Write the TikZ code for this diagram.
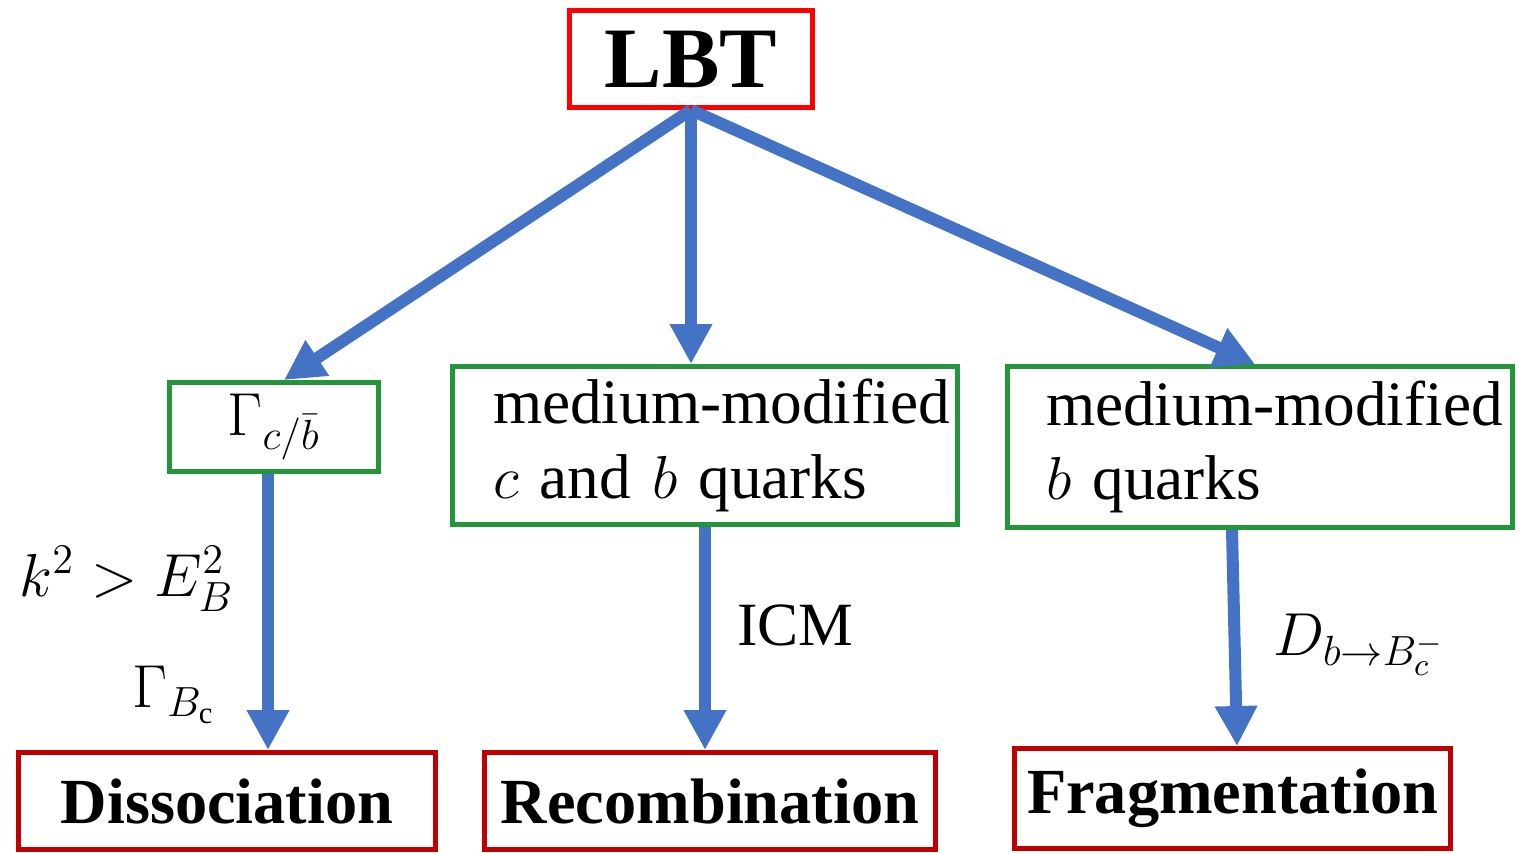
\documentclass[tikz,border=0pt]{standalone}
\usepackage{fontspec}
\setmainfont{Liberation Serif}
\usetikzlibrary{shapes, arrows.meta, positioning}

\definecolor{lbtred}{RGB}{255,0,0}
\definecolor{resultred}{RGB}{192,0,0}
\definecolor{stagegreen}{RGB}{34,150,56}
\definecolor{flowblue}{RGB}{68,114,196}

\begin{document}
\begin{tikzpicture}[node distance=2cm,
                    every node/.style={rectangle, inner sep=0pt},
                    box/.style={draw, line width=0.5mm, fill=white},
                    mainbox/.style={box, draw=lbtred, minimum width=2.43cm, minimum height=0.97cm,
                                    font=\fontsize{24.5}{28}\selectfont\bfseries},
                    stagebox/.style={box, draw=stagegreen, font=\fontsize{18}{21.3}\selectfont},
                    quarkbox/.style={stagebox, text width=5.05cm, align=left,
                                     execute at begin node={\leftskip=#1}},
                    resultbox/.style={box, draw=resultred, minimum height=0.97cm,
                                      font=\fontsize{18.3}{22}\selectfont\bfseries},
                    flow/.style={draw=flowblue, line width=1.2mm, -{Triangle[width=4mm,length=4mm]}},
                    flowlabel/.style={font=\fontsize{17.5}{21}\selectfont}]

\useasboundingbox (0,0) rectangle (15.34,-8.53);

% Nodes
\node (lbt) [mainbox] at (6.91,-0.59) {LBT};
\node (rate) [stagebox, minimum width=2.09cm, minimum height=0.89cm,
              below=2.70cm of lbt, xshift=-4.17cm] {$\Gamma_{c/\bar{b}}$};
\node (cquarks) [quarkbox=0.405cm, minimum height=1.58cm,
                 below=2.54cm of lbt, xshift=0.14cm] {medium-modified\\ $c$ and $b$ quarks};
\node (bquarks) [quarkbox=0.385cm, minimum height=1.61cm,
                 below=2.54cm of lbt, xshift=5.69cm] {medium-modified\\ $b$ quarks};
\node (diss) [resultbox, minimum width=4.17cm, below=2.76cm of rate, xshift=-0.47cm] {Dissociation};
\node (recomb) [resultbox, minimum width=4.51cm, below=2.23cm of cquarks, xshift=0.05cm] {Recombination};
\node (frag) [resultbox, minimum width=4.36cm, minimum height=1.0cm,
              below=2.16cm of bquarks, xshift=-0.275cm] {Fragmentation};

% Edges
\draw[flow] (lbt.south) -- ([xshift=1mm]rate.north);
\draw[flow] (lbt.south) -- (lbt.south |- cquarks.north);
\draw[flow] (lbt.south) -- ([xshift=-0.5mm]bquarks.north);
\draw[flow] ([xshift=-0.6mm]rate.south) --
      node[flowlabel, pos=0.38, left=0.28cm] {$k^2 > E_B^2$}
      node[flowlabel, pos=0.8, left=0.46cm] {$\Gamma_{B_\mathrm{c}}$}
      ([xshift=-0.6mm]rate.south |- diss.north);
\draw[flow] (cquarks.south) -- node[flowlabel, pos=0.44, right=0.26cm] {ICM} (cquarks.south |- recomb.north);
\draw[flow] ([xshift=-2.8mm]bquarks.south) --
      node[flowlabel, pos=0.53, right=0.33cm] {$D_{b\rightarrow B_c^-}$}
      ([xshift=-2.3mm]bquarks.south |- frag.north);

\end{tikzpicture}
\end{document}
